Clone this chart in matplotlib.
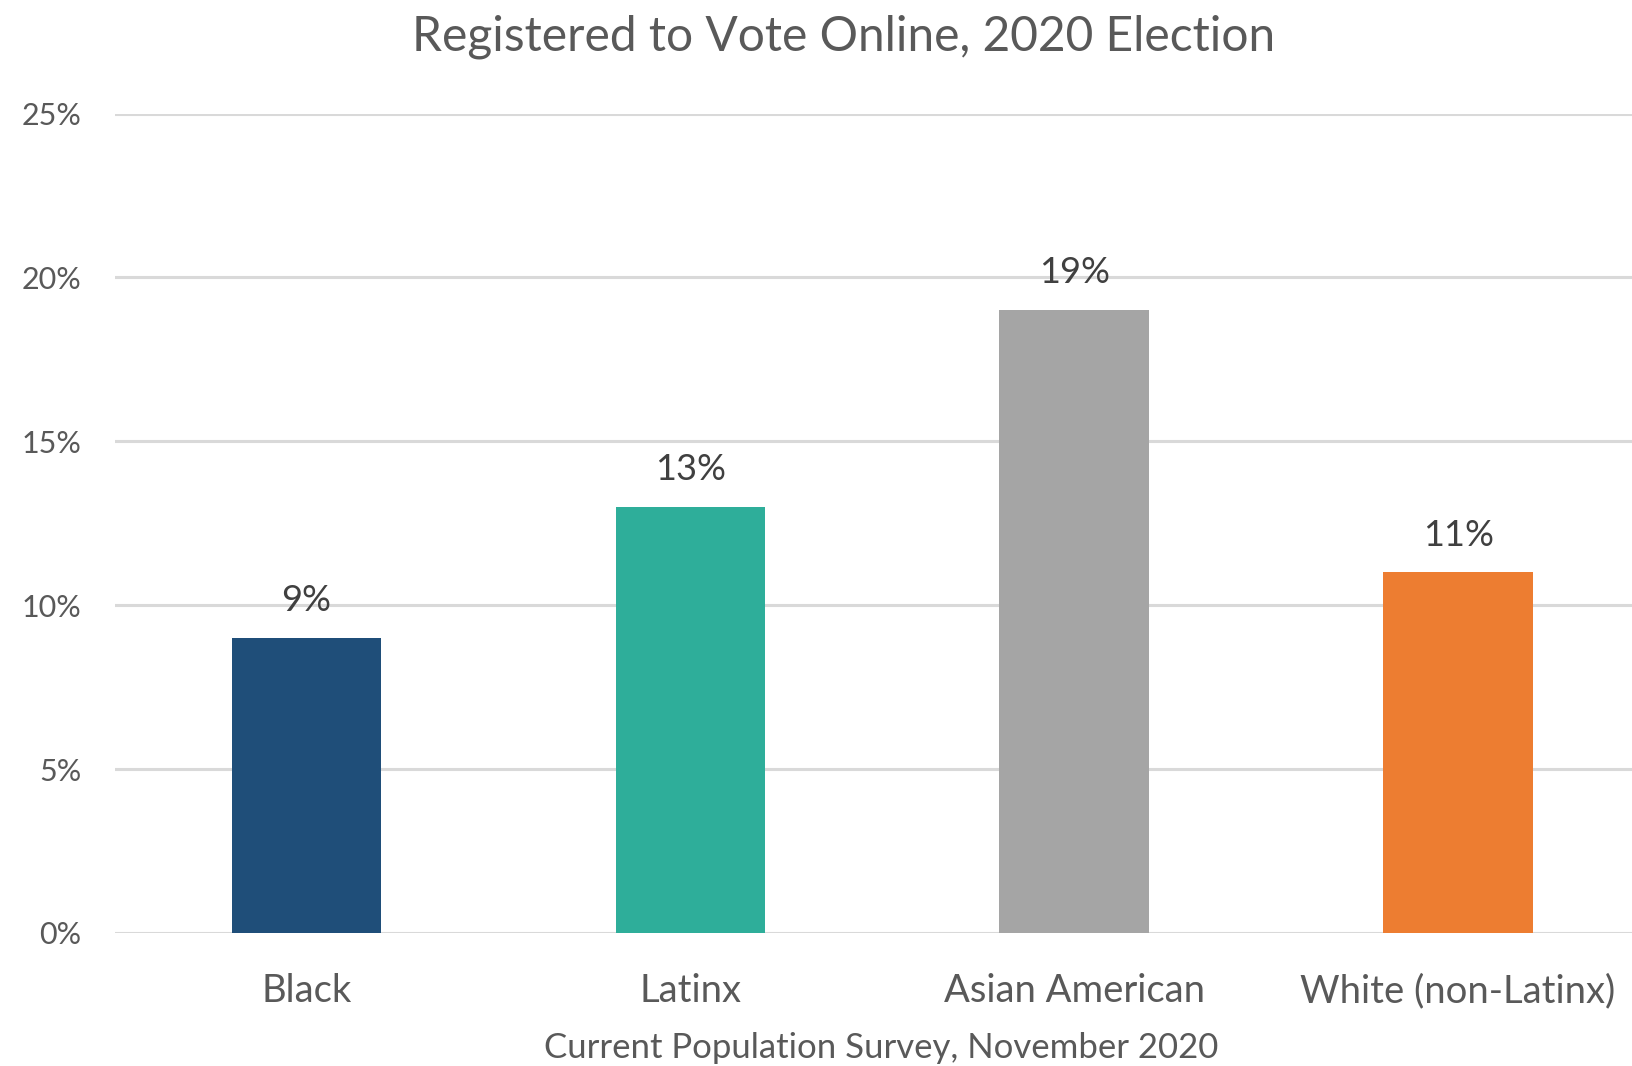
import matplotlib
matplotlib.use("Agg")
import matplotlib.pyplot as plt
from matplotlib.ticker import FixedLocator, FuncFormatter

plt.rcParams['font.family'] = ['Lato', 'DejaVu Sans']

categories = ["Black", "Latinx", "Asian American", "White (non-Latinx)"]
values = [9, 13, 19, 11]
colors = ["#1f4e79", "#2eae9a", "#a5a5a5", "#ed7d31"]
y_ticks = [0, 5, 10, 15, 20, 25]

W, H = 1633, 1066
fig = plt.figure(figsize=(W / 100, H / 100), dpi=100)

# plot area spans past the right edge of the figure
left, right = 114.6, 1650.0
bottom, top = 933.0, 113.5
ax = fig.add_axes([left / W, 1 - bottom / H, (right - left) / W, (bottom - top) / H])

x = list(range(len(categories)))
ax.bar(x, values, width=0.39, color=colors, zorder=3)
ax.set_xlim(-0.5, 3.5)
ax.set_ylim(0, 25)

for xi, v in zip(x, values):
    ax.annotate(f"{v}%", (xi, v), xytext=(0, 15), textcoords="offset points",
                ha="center", va="bottom", fontsize=26, color="#404040")

ax.yaxis.set_major_locator(FixedLocator(y_ticks))
ax.yaxis.set_major_formatter(FuncFormatter(lambda v, p: f"{v:.0f}%"))
ax.set_xticks(x)
ax.set_xticklabels(categories)
ax.grid(axis="y", color="#d9d9d9", linewidth=2.2, zorder=0)
for s in ax.spines.values():
    s.set_visible(False)
ax.tick_params(axis="y", length=0, pad=24, labelsize=22, labelcolor="#595959")
ax.tick_params(axis="x", length=0, pad=29, labelsize=27.5, labelcolor="#595959")

fig.text(844 / W, 1 - 37 / H, "Registered to Vote Online, 2020 Election",
         ha="center", va="center", fontsize=34.5, color="#595959")
fig.text(881 / W, 1 - 1048 / H, "Current Population Survey, November 2020",
         ha="center", va="center", fontsize=25, color="#595959")

fig.savefig("out.png", dpi=100, facecolor="white")
